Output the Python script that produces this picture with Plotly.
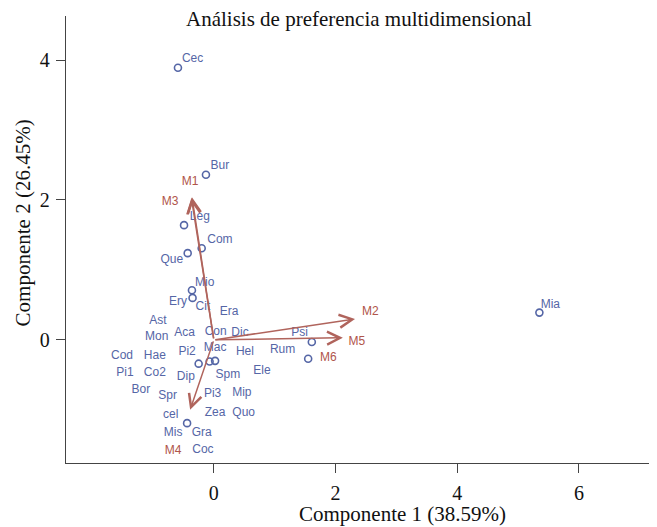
import plotly.graph_objects as go

# Circles (observations)
pt_x = [-0.59, -0.13, -0.49, -0.20, -0.43, -0.36, -0.35, -0.25, -0.07, 0.02, -0.44, 1.61, 1.55, 5.35]
pt_y = [3.89, 2.36, 1.64, 1.31, 1.24, 0.71, 0.60, -0.34, -0.31, -0.30, -1.19, -0.03, -0.27, 0.39]

# Species labels
lab_names = ["Cec", "Bur", "Leg", "Com", "Que", "Mio", "Ery", "Cit", "Era", "Ast", "Mon", "Aca",
             "Con", "Dic", "Psi", "Cod", "Hae", "Pi2", "Mac", "Hel", "Rum", "Pi1", "Co2", "Dip",
             "Spm", "Ele", "Bor", "Spr", "Pi3", "Mip", "cel", "Zea", "Quo", "Mis", "Gra", "Coc", "Mia"]
lab_x = [-0.35, 0.10, -0.23, 0.10, -0.69, -0.15, -0.59, -0.18, 0.25, -0.92, -0.94, -0.48,
         0.03, 0.43, 1.41, -1.51, -0.97, -0.44, 0.02, 0.51, 1.13, -1.46, -0.97, -0.46,
         0.23, 0.79, -1.20, -0.76, -0.02, 0.46, -0.71, 0.02, 0.49, -0.67, -0.20, -0.18, 5.53]
lab_y = [4.01, 2.49, 1.76, 1.43, 1.14, 0.81, 0.54, 0.47, 0.40, 0.27, 0.04, 0.10,
         0.11, 0.10, 0.10, -0.23, -0.23, -0.17, -0.11, -0.17, -0.14, -0.47, -0.47, -0.53,
         -0.50, -0.44, -0.71, -0.80, -0.77, -0.76, -1.07, -1.04, -1.04, -1.33, -1.33, -1.57, 0.50]

# Variable (arrow) labels and arrow tips
var_names = ["M1", "M3", "M2", "M5", "M6", "M4"]
var_lab_x = [-0.39, -0.72, 2.57, 2.35, 1.88, -0.67]
var_lab_y = [2.26, 1.97, 0.40, -0.03, -0.26, -1.59]
arrow_names = ["M1", "M3", "M2", "M5", "M4"]
arrow_x = [-0.36, -0.37, 2.32, 2.12, -0.39]
arrow_y = [2.04, 2.03, 0.30, 0.03, -1.00]

x_ticks = [0, 2, 4, 6]
y_ticks = [0, 2, 4]

BLUE = "#5566a6"
RED = "#b0554a"
ARROW = "#b0645c"
SERIF = "Liberation Serif, Times New Roman, serif"
SANS = "Liberation Sans, Arial, sans-serif"

fig = go.Figure()

fig.add_trace(go.Scatter(
    x=pt_x, y=pt_y, mode="markers",
    marker=dict(symbol="circle-open", size=7, color=BLUE, line=dict(width=1.6, color=BLUE)),
    showlegend=False, hoverinfo="skip"))

fig.add_trace(go.Scatter(
    x=lab_x, y=lab_y, mode="text", text=lab_names,
    textfont=dict(family=SANS, size=12, color=BLUE),
    showlegend=False, hoverinfo="skip"))

fig.add_trace(go.Scatter(
    x=var_lab_x, y=var_lab_y, mode="text", text=var_names,
    textfont=dict(family=SANS, size=12, color=RED),
    showlegend=False, hoverinfo="skip"))

for name, ex, ey in zip(arrow_names, arrow_x, arrow_y):
    fig.add_annotation(
        x=ex, y=ey, ax=0, ay=0, xref="x", yref="y", axref="x", ayref="y",
        text="", showarrow=True, arrowhead=5, arrowsize=1.7, arrowwidth=1.5,
        arrowcolor=ARROW)

fig.add_annotation(
    x=0.497, y=0.993, xref="paper", yref="paper", xanchor="center", yanchor="middle",
    text="Análisis de preferencia multidimensional", showarrow=False,
    font=dict(family=SERIF, size=21, color="#111"))

fig.add_annotation(
    x=0.572, y=-0.115, xref="paper", yref="paper", xanchor="center", yanchor="middle",
    text="Componente 1 (38.59%)", showarrow=False,
    font=dict(family=SERIF, size=21, color="#111"))

fig.add_annotation(
    x=-0.073, y=0.536, xref="paper", yref="paper", xanchor="center", yanchor="middle",
    textangle=-90, text="Componente 2 (26.45%)", showarrow=False,
    font=dict(family=SERIF, size=21, color="#111"))

axis_common = dict(
    showgrid=False, zeroline=False, showline=True, linecolor="#444", linewidth=1.4,
    ticks="outside", ticklen=9, tickwidth=1.4, tickcolor="#444",
    tickfont=dict(family=SERIF, size=20, color="#111"))

fig.update_layout(
    width=649, height=519,
    margin=dict(l=58, r=2, t=8, b=64),
    paper_bgcolor="white", plot_bgcolor="white",
    xaxis=dict(range=[-2.43, 7.25], tickvals=x_ticks, ticklabelstandoff=3, **axis_common),
    yaxis=dict(range=[-1.76, 4.63], tickvals=y_ticks, ticklabelstandoff=2, **axis_common),
)

fig.write_html("out.html")
